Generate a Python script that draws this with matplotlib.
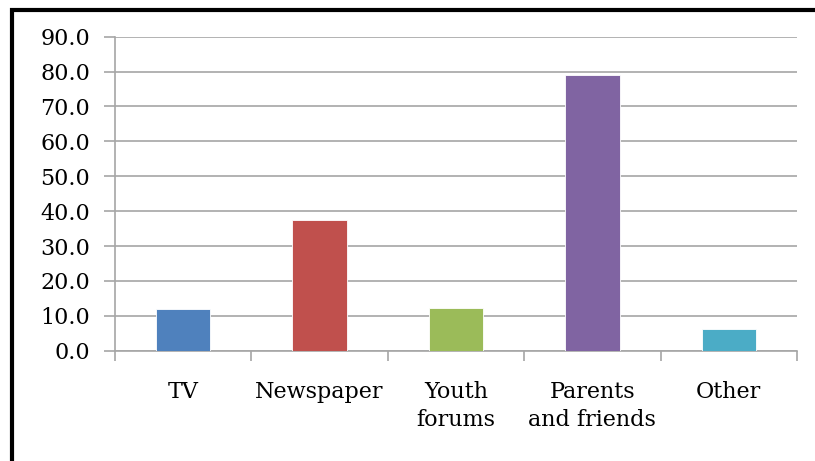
import numpy as np
import matplotlib
matplotlib.use("Agg")
import matplotlib.pyplot as plt
from matplotlib.patches import Rectangle

# sources of information and share of respondents (%)
categories = ["TV", "Newspaper", "Youth\nforums", "Parents\nand friends", "Other"]
values = [11.9, 37.6, 12.1, 78.9, 6.3]
bar_colors = ["#4F81BD", "#C0504D", "#9BBB59", "#8064A2", "#4BACC6"]
y_ticks = [0, 10, 20, 30, 40, 50, 60, 70, 80, 90]

plt.rcParams['font.family'] = ['DejaVu Serif']
grid_col = "#A6A6A6"

fig = plt.figure(figsize=(8.15, 4.61), dpi=100)
ax = fig.add_axes([115 / 815, 1 - 350.7 / 461, 682 / 815, 314 / 461])

x = np.arange(len(categories))
ax.bar(x, values, width=0.4, color=bar_colors, edgecolor="white", linewidth=0.6, zorder=3)

ax.set_xlim(-0.5, len(categories) - 0.5)
ax.set_ylim(0, 90)
ax.set_yticks(y_ticks)
ax.set_yticklabels([f"{v:.1f}" for v in y_ticks], fontsize=16)
ax.yaxis.grid(True, color=grid_col, linewidth=1.2, zorder=0)

# category labels centred under bars, tick marks on the boundaries
ax.set_xticks(x)
ax.set_xticklabels(categories, fontsize=16, linespacing=1.35)
ax.tick_params(axis="x", length=0, pad=22)
ax.set_xticks(np.arange(len(categories) + 1) - 0.5, minor=True)
ax.tick_params(axis="x", which="minor", length=7, color=grid_col, width=1.2)
ax.tick_params(axis="y", length=8, color=grid_col, width=1.2, pad=10)

for side in ["top", "right"]:
    ax.spines[side].set_visible(False)
for side in ["left", "bottom"]:
    ax.spines[side].set_color(grid_col)
    ax.spines[side].set_linewidth(1.2)

# thick black outer frame (left and top edges)
fig.add_artist(Rectangle((12 / 815, -0.2), 1.2, 1.2 - 9.5 / 461,
                         transform=fig.transFigure, fill=False,
                         edgecolor="black", linewidth=3.0))

fig.savefig("out.png", dpi=100)
